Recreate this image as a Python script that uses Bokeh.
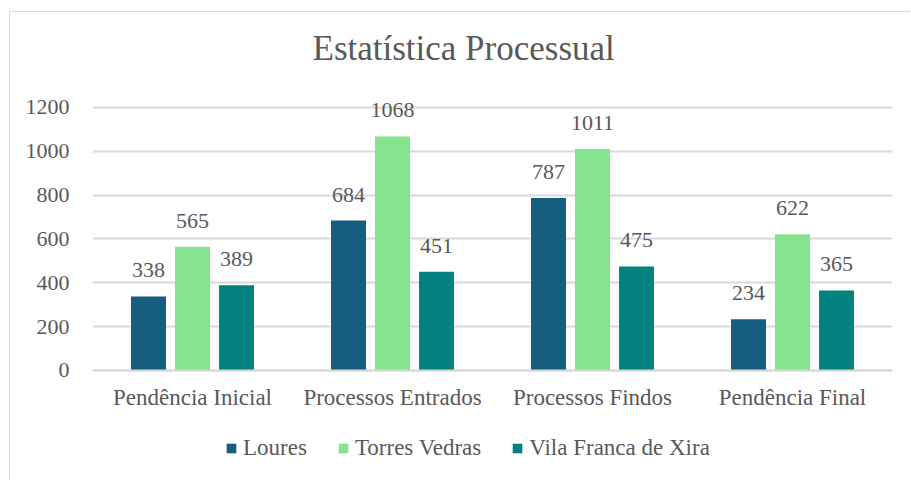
from bokeh.plotting import figure
from bokeh.models import FactorRange, Range1d, FixedTicker, Legend, LegendItem, ColumnDataSource
from bokeh.transform import dodge
from bokeh.embed import file_html
from bokeh.resources import INLINE
from bokeh.core.properties import value

categories = ["Pendência Inicial", "Processos Entrados", "Processos Findos", "Pendência Final"]
series = ["Loures", "Torres Vedras", "Vila Franca de Xira"]
loures = [338, 684, 787, 234]
torres_vedras = [565, 1068, 1011, 622]
vila_franca = [389, 451, 475, 365]
y_ticks = [0, 200, 400, 600, 800, 1000, 1200]
colors = ["#165E80", "#86E38E", "#018180"]

FONT = "Liberation Serif"
GRAY = "#595959"
GRID = "#D9D9D9"

source = ColumnDataSource(dict(
    cat=categories,
    loures=loures, torres=torres_vedras, vila=vila_franca,
    loures_t=[str(v) for v in loures],
    torres_t=[str(v) for v in torres_vedras],
    vila_t=[str(v) for v in vila_franca],
))

p = figure(
    x_range=FactorRange(factors=categories, range_padding=0),
    y_range=Range1d(-506.5, 1346),
    width=901, height=469,
    output_backend="svg", toolbar_location=None,
    min_border_left=82, min_border_right=19,
    min_border_top=63, min_border_bottom=0,
    background_fill_color="white", border_fill_color="white",
)
p.styles = {"margin-left": "9px", "margin-top": "11px",
            "border-left": "1px solid #D9D9D9", "border-top": "1px solid #D9D9D9"}
p.outline_line_color = None

p.title.text = "Estatística Processual"
p.title.text_font = FONT
p.title.text_font_size = "35px"
p.title.text_font_style = "normal"
p.title.text_color = GRAY
p.title.align = "left"
p.title.offset = 220
p.title.standoff = 15

keys = ["loures", "torres", "vila"]
offsets = [-0.22, 0.0, 0.22]
renderers = []
for k, off, c in zip(keys, offsets, colors):
    r = p.vbar(x=dodge("cat", off, range=p.x_range), top=k, width=0.175, source=source,
               fill_color=c, line_color=None)
    renderers.append(r)
    p.text(x=dodge("cat", off, range=p.x_range), y=k, text=k + "_t", source=source,
           text_font=value(FONT), text_font_size="22px", text_color=GRAY,
           text_align="center", text_baseline="alphabetic", y_offset=-26)

p.yaxis.ticker = FixedTicker(ticks=y_ticks)
p.yaxis.axis_line_color = None
p.yaxis.major_tick_line_color = None
p.yaxis.minor_tick_line_color = None
p.yaxis.major_label_standoff = 17
p.yaxis.major_label_text_font = FONT
p.yaxis.major_label_text_font_size = "22px"
p.yaxis.major_label_text_color = GRAY

p.xaxis.fixed_location = 0
p.xaxis.axis_line_color = GRID
p.xaxis.axis_line_width = 2
p.xaxis.major_tick_line_color = None
p.xaxis.minor_tick_line_color = None
p.xaxis.major_label_standoff = 9
p.xaxis.major_label_text_font = FONT
p.xaxis.major_label_text_font_size = "23px"
p.xaxis.major_label_text_color = GRAY

p.xgrid.grid_line_color = None
p.ygrid.grid_line_color = GRID
p.ygrid.grid_line_width = 2

legend = Legend(
    items=[LegendItem(label=s, renderers=[r]) for s, r in zip(series, renderers)],
    orientation="horizontal", location=(133, 20),
    glyph_width=12, glyph_height=12, label_height=20,
    label_text_font=FONT, label_text_font_size="23px", label_text_color=GRAY,
    spacing=30, label_standoff=6, padding=0, margin=0,
    border_line_alpha=0, background_fill_alpha=0,
)
p.add_layout(legend, "center")

open("out.html", "w").write(file_html(p, INLINE))
